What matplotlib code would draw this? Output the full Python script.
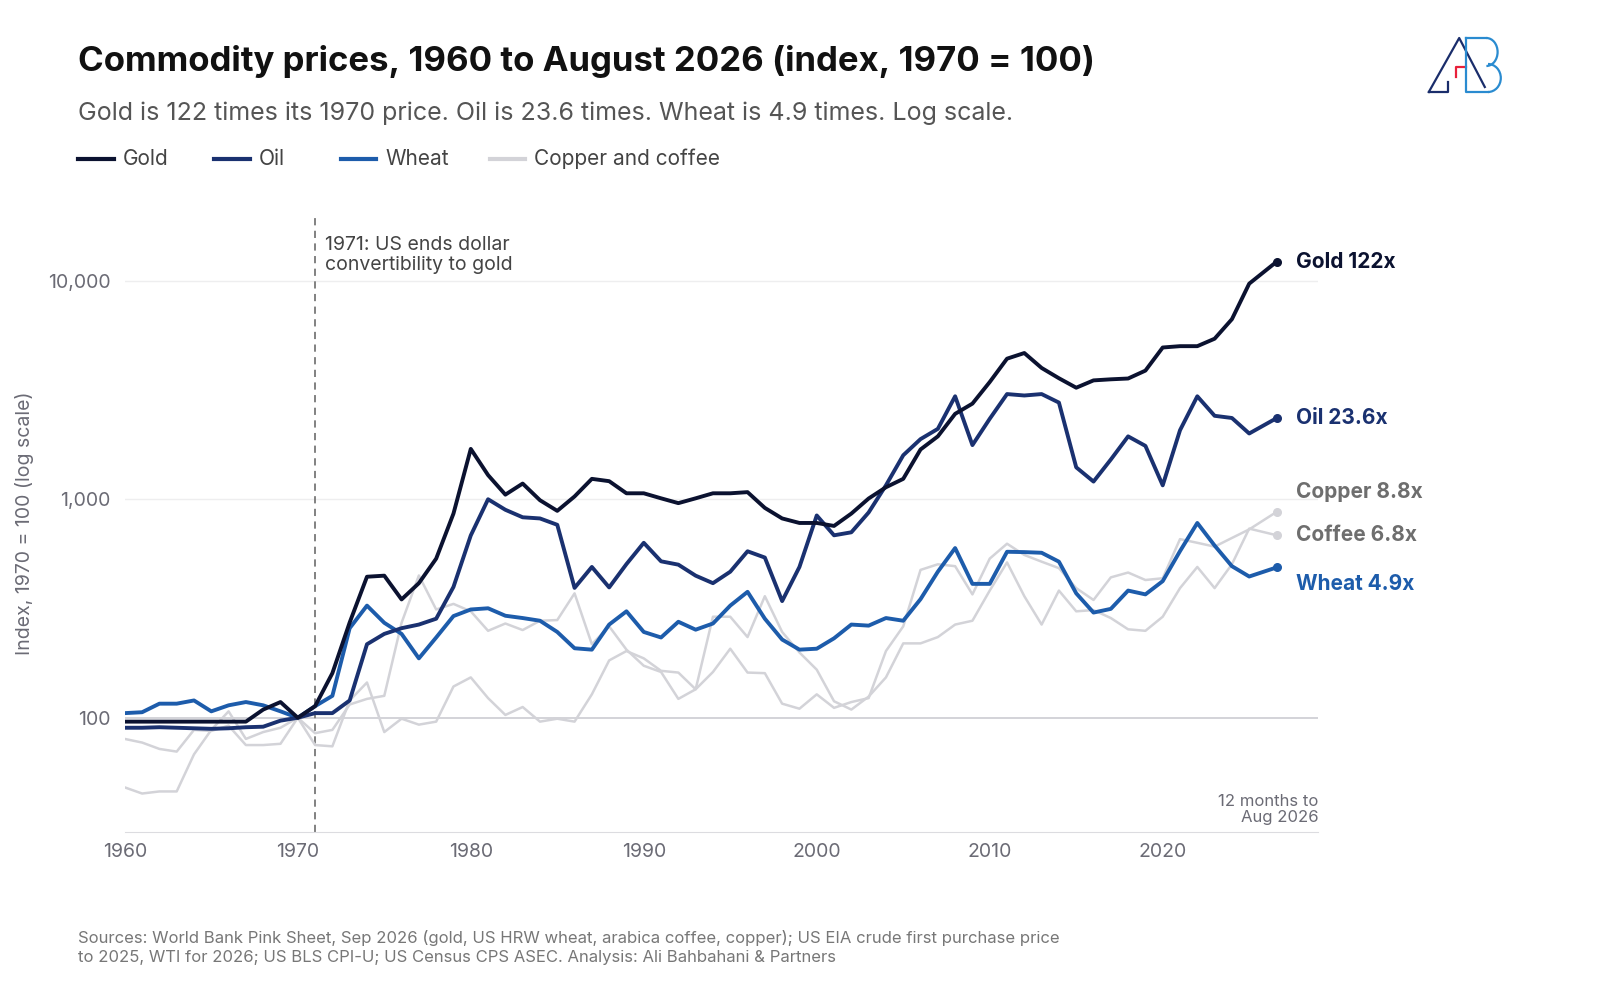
import matplotlib.pyplot as plt
from matplotlib.lines import Line2D
from matplotlib.patches import Arc
import matplotlib.ticker as mticker

plt.rcParams['font.family'] = ['Inter', 'DejaVu Sans']

# ── Data (index, 1970 = 100) ─────────────────────────────────────
years = list(range(1960, 2026)) + [2026.6]

gold = [96, 96, 96, 96, 96, 96, 96, 96, 109, 118, 100, 113, 160, 273, 442, 447, 348, 413, 535, 860,
        1700, 1290, 1050, 1180, 990, 885, 1030, 1240, 1210, 1065, 1065, 1010, 960, 1010, 1065, 1065,
        1078, 913, 817, 779, 779, 755, 860, 1008, 1135, 1240, 1690, 1940, 2460, 2740,
        3440, 4400, 4670, 3990, 3580, 3240, 3500, 3540, 3570, 3880, 4950, 5020, 5020, 5430, 6670, 9700,
        12250]
oil = [90, 90, 90.5, 90, 89.5, 89, 89.5, 90.5, 91, 97, 100, 105, 105, 120, 217, 242, 257, 267, 284, 397,
       683, 1000, 895, 827, 817, 764, 393, 490, 395, 505, 632, 520, 502, 447, 413, 466,
       578, 541, 342, 490, 843, 684, 706, 870, 1158, 1590, 1885, 2100, 2960, 1770,
       2335, 3030, 2985, 3030, 2770, 1400, 1205, 1520, 1940, 1755, 1158, 2070, 2960, 2410, 2355, 2000,
       2355]
wheat = [105, 106, 116, 116, 120, 107, 114, 118, 114, 107, 100, 113, 126, 257, 326, 272, 242, 187, 233, 292,
         313, 317, 293, 286, 278, 247, 208, 205, 267, 307, 247, 233, 275, 253, 270, 326,
         377, 284, 228, 205, 207, 231, 267, 264, 286, 278, 349, 466, 598, 410,
         410, 575, 573, 569, 518, 371, 303, 315, 382, 367, 422, 579, 779, 614, 494, 443,
         488]
copper = [48, 45, 46, 46, 68, 88, 107, 80, 86, 90, 100, 75, 74, 120, 145, 86, 99, 93, 96, 139,
          153, 123, 103, 112, 96, 99, 96, 128, 183, 202, 187, 164, 161, 135, 162, 207,
          161, 160, 116, 110, 128, 111, 118, 123, 202, 262, 475, 504, 494, 367,
          535, 626, 556, 518, 484, 392, 346, 439, 462, 427, 435, 657, 632, 607, 665, 728,
          877]
coffee = [80, 77, 72, 70, 88, 87, 92, 75, 75, 76, 100, 85, 88, 115, 122, 126, 272, 448, 313, 332,
          307, 250, 270, 252, 278, 280, 371, 217, 262, 205, 173, 162, 122, 135, 290, 290,
          234, 360, 247, 199, 166, 119, 109, 125, 153, 219, 219, 234, 267, 278,
          382, 514, 360, 267, 382, 307, 311, 286, 254, 250, 290, 392, 490, 392, 504, 734,
          684]

C_GOLD, C_OIL, C_WHEAT, C_GREY = '#0b1230', '#1a3170', '#1d5cab', '#d3d3d8'

fig = plt.figure(figsize=(16, 10), dpi=100)
ax = fig.add_axes([0.078, 0.168, 0.746, 0.617])

ax.plot(years, copper, color=C_GREY, lw=1.8, zorder=2)
ax.plot(years, coffee, color=C_GREY, lw=1.8, zorder=2)
ax.plot(years, wheat, color=C_WHEAT, lw=2.8, zorder=3)
ax.plot(years, oil, color=C_OIL, lw=2.8, zorder=4)
ax.plot(years, gold, color=C_GOLD, lw=2.8, zorder=5)

# end dots and labels
ends = [(gold, C_GOLD, 'Gold 122x', C_GOLD, 0),
        (oil, C_OIL, 'Oil 23.6x', C_OIL, 0),
        (copper, C_GREY, 'Copper 8.8x', '#6e6e6e', 1.23),
        (coffee, C_GREY, 'Coffee 6.8x', '#6e6e6e', 1.0),
        (wheat, C_WHEAT, 'Wheat 4.9x', C_WHEAT, 0.84)]
for s, c, lab, tc, f in ends:
    ax.scatter([years[-1]], [s[-1]], s=30, color=c, zorder=6, clip_on=False)
    ty = s[-1] * f if f else s[-1]
    ax.annotate(lab, (years[-1], ty), xytext=(14, 0), textcoords='offset points',
                va='center', ha='left', fontsize=15, fontweight='bold', color=tc,
                annotation_clip=False)

ax.set_yscale('log')
ax.set_ylim(30, 20000)
ax.set_xlim(1960, 2029)
ax.set_yticks([100, 1000, 10000])
ax.yaxis.set_major_formatter(mticker.FuncFormatter(lambda v, p: f'{int(v):,}'))
ax.yaxis.set_minor_locator(mticker.NullLocator())
ax.set_xticks(range(1960, 2030, 10))
ax.tick_params(axis='both', length=0, labelsize=14, labelcolor='#6b6b75', pad=8)
ax.tick_params(axis='y', pad=10)
ax.axhline(1000, color='#eeeeef', lw=1, zorder=0)
ax.axhline(10000, color='#eeeeef', lw=1, zorder=0)
ax.axhline(100, color='#d0d0d6', lw=1.3, zorder=1)
for sp in ['top', 'right', 'left']:
    ax.spines[sp].set_visible(False)
ax.spines['bottom'].set_color('#dcdce0')
ax.set_ylabel('Index, 1970 = 100 (log scale)', fontsize=14, color='#6b6b75', labelpad=10)

ax.axvline(1971, color='#777777', lw=1.3, ls=(0, (4, 3)), zorder=1)
ax.text(1971.6, 16000, '1971: US ends dollar\nconvertibility to gold', fontsize=14,
        color='#444444', va='top', linespacing=1.1)
ax.text(2029.0, 45, '12 months to\nAug 2026', fontsize=12, color='#6b6b75',
        ha='right', va='top', linespacing=1.15)

# titles
fig.text(0.049, 0.938, 'Commodity prices, 1960 to August 2026 (index, 1970 = 100)',
         fontsize=25, fontweight='bold', color='#111111', va='center')
fig.text(0.049, 0.887, 'Gold is 122 times its 1970 price. Oil is 23.6 times. Wheat is 4.9 times. Log scale.',
         fontsize=18, color='#555555', va='center')

# legend
legend_items = [('Gold', C_GOLD, 0.049), ('Oil', C_OIL, 0.134),
                ('Wheat', C_WHEAT, 0.213), ('Copper and coffee', C_GREY, 0.306)]
for name, c, x in legend_items:
    fig.add_artist(Line2D([x, x + 0.022], [0.841, 0.841], color=c, lw=3, transform=fig.transFigure))
    fig.text(x + 0.028, 0.841, name, fontsize=15, color='#444444', va='center')

# source
fig.text(0.049, 0.035, 'Sources: World Bank Pink Sheet, Sep 2026 (gold, US HRW wheat, arabica coffee, copper); '
         'US EIA crude first purchase price\nto 2025, WTI for 2026; US BLS CPI-U; US Census CPS ASEC. '
         'Analysis: Ali Bahbahani & Partners', fontsize=12, color='#777777', va='bottom', linespacing=1.3)

# logo
tf = fig.transFigure
fig.add_artist(Line2D([0.893, 0.912, 0.928], [0.908, 0.962, 0.913], color='#1a2d6b', lw=1.6, transform=tf))
fig.add_artist(Line2D([0.893, 0.905, 0.905], [0.908, 0.908, 0.918], color='#1a2d6b', lw=1.6, transform=tf))
fig.add_artist(Line2D([0.910, 0.910, 0.916], [0.923, 0.933, 0.933], color='#e8203a', lw=1.6, transform=tf))
fig.add_artist(Line2D([0.916, 0.916, 0.930], [0.962, 0.908, 0.908], color='#2a8bd0', lw=1.6, transform=tf))
fig.add_artist(Line2D([0.916, 0.929], [0.962, 0.962], color='#2a8bd0', lw=1.6, transform=tf))
fig.add_artist(Arc((0.929, 0.948), 0.014, 0.028, theta1=-90, theta2=90, color='#2a8bd0', lw=1.6, transform=tf))
fig.add_artist(Arc((0.930, 0.922), 0.016, 0.028, theta1=-90, theta2=90, color='#2a8bd0', lw=1.6, transform=tf))

fig.savefig('out.png', dpi=100)
